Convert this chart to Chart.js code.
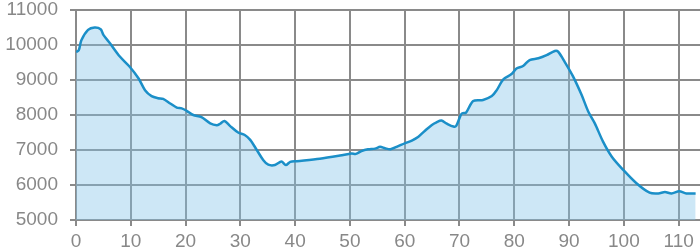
<!DOCTYPE html>
<html>
<head>
<meta charset="utf-8">
<script src="https://cdn.jsdelivr.net/npm/chart.js@4/dist/chart.umd.min.js"></script>
<style>
html,body{margin:0;padding:0;background:#fff;}
#wrap{width:700px;height:250px;position:relative;}
</style>
</head>
<body>
<div id="wrap"><canvas id="c" width="700" height="250"></canvas></div>
<script>
const distances = [0, 0.5, 1, 2.2, 3.4, 4.5, 5.0, 6.2, 8.0, 9.8, 11.4, 12.6, 13.8, 15.0, 15.9, 17.2, 18.4, 19.3, 20.2, 21.4, 22.9, 24.5, 25.7, 26.3, 27.1, 28.1, 29.6, 30.8, 31.8, 33.0, 34.2, 35.1, 36.3, 37.5, 38.3, 39.1, 40.3, 44.5, 48.2, 50.3, 51.1, 52.1, 53.3, 54.6, 55.5, 56.4, 57.4, 58.8, 60.0, 61.3, 62.5, 63.7, 64.9, 65.8, 66.7, 67.6, 68.9, 69.4, 70.2, 70.5, 71.2, 72.5, 74.3, 75.9, 76.8, 78.0, 79.5, 80.4, 81.6, 82.8, 84.4, 85.9, 87.4, 88.0, 89.2, 90.7, 92.3, 93.5, 94.7, 96.2, 97.8, 99.9, 102.3, 104.7, 106.3, 107.5, 108.7, 110.1, 111.4, 113.1];
const elevations = [9800, 9850, 10140, 10430, 10500, 10450, 10290, 10050, 9670, 9380, 9050, 8710, 8540, 8480, 8460, 8330, 8210, 8190, 8120, 8000, 7940, 7760, 7710, 7750, 7830, 7690, 7500, 7430, 7290, 7000, 6710, 6580, 6570, 6670, 6570, 6660, 6680, 6750, 6840, 6900, 6890, 6970, 7020, 7040, 7090, 7050, 7020, 7110, 7190, 7270, 7380, 7550, 7710, 7790, 7840, 7760, 7670, 7690, 7990, 8050, 8070, 8400, 8430, 8540, 8710, 9020, 9170, 9330, 9400, 9570, 9620, 9710, 9830, 9810, 9520, 9110, 8570, 8100, 7760, 7240, 6810, 6430, 6050, 5780, 5760, 5800, 5760, 5820, 5760, 5760];
const xTicks = [0, 10, 20, 30, 40, 50, 60, 70, 80, 90, 100, 110];
const yTicks = [5000, 6000, 7000, 8000, 9000, 10000, 11000];

const points = distances.map((d, i) => ({x: d, y: elevations[i]}));
const gridColor = '#8a8a8a';
const tickFont = {family: '"Liberation Sans", Arial, sans-serif', size: 19};

new Chart(document.getElementById('c'), {
  type: 'line',
  data: {
    datasets: [{
      data: points,
      borderColor: '#1b8fc8',
      borderWidth: 2.5,
      backgroundColor: 'rgba(130,195,232,0.4)',
      fill: 'start',
      pointRadius: 0,
      tension: 0.3
    }]
  },
  options: {
    responsive: false,
    animation: false,
    layout: {padding: {top: 10, right: 0, left: 0, bottom: 0}},
    plugins: {legend: {display: false}, tooltip: {enabled: false}},
    scales: {
      x: {
        type: 'linear',
        min: 0,
        max: 113.9,
        afterBuildTicks: s => { s.ticks = xTicks.map(v => ({value: v})); },
        ticks: {color: '#888', font: tickFont, padding: 4, maxRotation: 0, autoSkip: false,
                callback: v => String(v)},
        grid: {color: gridColor, lineWidth: 2, tickLength: 6},
        border: {color: gridColor, width: 2},
        afterFit: s => { s.height = 30; s.paddingLeft = 0; s.paddingRight = 0; }
      },
      y: {
        min: 5000,
        max: 11000,
        afterBuildTicks: s => { s.ticks = yTicks.map(v => ({value: v})); },
        ticks: {color: '#888', font: tickFont, padding: 12, callback: v => String(v)},
        grid: {color: gridColor, lineWidth: 2, tickLength: 6},
        border: {color: gridColor, width: 2},
        afterFit: s => { s.width = 76; s.paddingTop = 0; s.paddingBottom = 0; }
      }
    }
  }
});
</script>
</body>
</html>
